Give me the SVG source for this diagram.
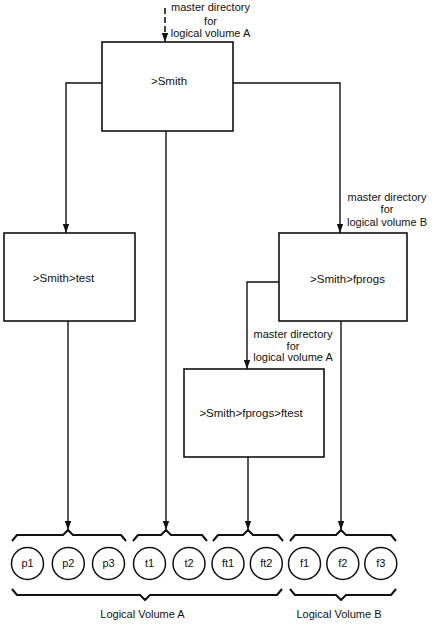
<svg xmlns="http://www.w3.org/2000/svg" width="444" height="629" viewBox="0 0 444 629">
<defs>
<marker id="ah" markerWidth="10" markerHeight="8" refX="9" refY="4" orient="auto" markerUnits="userSpaceOnUse" viewBox="0 0 10 8">
<path d="M0,0.8 L9,4 L0,7.2 Z" fill="#111"/>
</marker>
<style>
.box{fill:#fff;stroke:#111;stroke-width:1.6}
.ln{fill:none;stroke:#111;stroke-width:1.4}
.dash{fill:none;stroke:#111;stroke-width:1.6;stroke-dasharray:6,3}
.br{fill:none;stroke:#111;stroke-width:2;stroke-linejoin:round}
.c{fill:#fff;stroke:#111;stroke-width:1.5}
text{font-family:"Liberation Sans",Arial,sans-serif;font-size:11px;fill:#111}
.m{text-anchor:middle}
.b{font-size:11.5px}
.s{font-size:11px}
</style>
</defs>
<rect width="444" height="629" fill="#fff"/>
<g id="connectors">
<path class="dash" d="M165,8 V34"/>
<path class="ln" d="M165,33 V42" marker-end="url(#ah)"/>
<path class="ln" d="M102,83 H66 V233" marker-end="url(#ah)"/>
<path class="ln" d="M233,83 H340 V233" marker-end="url(#ah)"/>
<path class="ln" d="M166,131 V530" marker-end="url(#ah)"/>
<path class="ln" d="M68,321 V530" marker-end="url(#ah)"/>
<path class="ln" d="M279,282 H247 V369" marker-end="url(#ah)"/>
<path class="ln" d="M248,457 V530" marker-end="url(#ah)"/>
<path class="ln" d="M341,321 V530" marker-end="url(#ah)"/>
</g>
<g id="labels">
<text class="m" x="210.5" y="11">master directory</text>
<text class="m" x="210.5" y="24.5">for</text>
<text class="m" x="210.5" y="36.5">logical volume A</text>
<text class="m" x="387" y="200.5">master directory</text>
<text class="m" x="387" y="213">for</text>
<text class="m" x="387" y="225.5">logical volume B</text>
<text class="m" x="293" y="338">master directory</text>
<text class="m" x="293" y="349.5">for</text>
<text class="m" x="293" y="361">logical volume A</text>
</g>
<g id="smith">
<rect class="box" x="102" y="42" width="131" height="89"/>
<text class="m b" x="169" y="85">&gt;Smith</text>
</g>
<g id="test">
<rect class="box" x="4" y="233" width="131" height="88"/>
<text class="m b" x="63.5" y="281.5">&gt;Smith&gt;test</text>
</g>
<g id="fprogs">
<rect class="box" x="279" y="233" width="128" height="88"/>
<text class="m b" x="347.5" y="282.5">&gt;Smith&gt;fprogs</text>
</g>
<g id="ftest">
<rect class="box" x="184" y="369" width="140" height="88"/>
<text class="m b" x="251" y="416.5">&gt;Smith&gt;fprogs&gt;ftest</text>
</g>
<g id="brackets">
<path class="br" d="M12,541 L17,535 H63 L68,530 L73,535 H121 L126,541"/>
<path class="br" d="M133,541 L138,535 H161 L166,530 L171,535 H202 L207,541"/>
<path class="br" d="M213,541 L218,535 H243 L248,530 L253,535 H278 L283,541"/>
<path class="br" d="M290,541 L295,535 H336 L341,530 L346,535 H391 L396,541"/>
<path class="br" d="M12,589 L17,595 H140 L145,600 L150,595 H277 L282,589"/>
<path class="br" d="M290,589 L295,595 H336 L341,600 L346,595 H391 L396,589"/>
</g>
<g id="p1"><circle class="c" cx="27.5" cy="563.5" r="16"/><text class="m s" x="27.5" y="567">p1</text></g>
<g id="p2"><circle class="c" cx="68.3" cy="563.5" r="16"/><text class="m s" x="68.3" y="567">p2</text></g>
<g id="p3"><circle class="c" cx="108.5" cy="563.5" r="16"/><text class="m s" x="108.5" y="567">p3</text></g>
<g id="t1"><circle class="c" cx="149.5" cy="563.5" r="16"/><text class="m s" x="149.5" y="567">t1</text></g>
<g id="t2"><circle class="c" cx="189" cy="563.5" r="16"/><text class="m s" x="189" y="567">t2</text></g>
<g id="ft1"><circle class="c" cx="228" cy="563.5" r="16"/><text class="m s" x="228" y="567">ft1</text></g>
<g id="ft2"><circle class="c" cx="266.3" cy="563.5" r="16"/><text class="m s" x="266.3" y="567">ft2</text></g>
<g id="f1"><circle class="c" cx="304.5" cy="563.5" r="16"/><text class="m s" x="304.5" y="567">f1</text></g>
<g id="f2"><circle class="c" cx="342.8" cy="563.5" r="16"/><text class="m s" x="342.8" y="567">f2</text></g>
<g id="f3"><circle class="c" cx="380.8" cy="563.5" r="16"/><text class="m s" x="380.8" y="567">f3</text></g>
<g id="volumes">
<text class="m" x="142.5" y="618">Logical Volume A</text>
<text class="m" x="339" y="618">Logical Volume B</text>
</g>
</svg>
